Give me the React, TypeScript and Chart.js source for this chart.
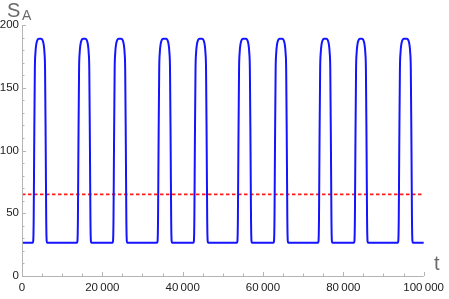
import React, { useEffect, useRef } from "react";
import { Chart, registerables } from "chart.js";

Chart.register(...registerables);

// Times (t) where each pulse crosses S_A ≈ 100 going up / going down
const riseTimes = [3030, 14040, 22900, 33990, 43030, 53870, 62980, 74060, 83000, 93920];
const fallTimes = [5910, 16920, 25860, 37020, 45990, 56900, 65940, 76920, 85790, 96970];
const baseLevel = 26.5;
const peakLevel = 189;
const thresholdLevel = 65;
const tMin = 0;
const tMax = 100000;
const xTickLabels = ["0", "20\u2009000", "40\u2009000", "60\u2009000", "80\u2009000", "100\u2009000"];
const yTickLabels = ["0", "50", "100", "150", "200"];

// Shape of a pulse edge: [time offset from crossing, level]
const riseProfile: [number, number][] = [
  [-340, baseLevel], [-230, 28], [-120, 45], [0, 100], [170, 165], [320, 178], [520, 184.5], [800, 188], [1150, peakLevel],
];

function buildSeries() {
  const pts: { x: number; y: number }[] = [{ x: tMin, y: baseLevel }];
  riseTimes.forEach((r, i) => {
    const f = fallTimes[i];
    riseProfile.forEach(([dt, v]) => pts.push({ x: r + dt, y: v }));
    [...riseProfile].reverse().forEach(([dt, v]) => pts.push({ x: f - dt, y: v }));
  });
  pts.push({ x: tMax, y: baseLevel });
  return pts;
}

const axisColor = "#b4b4b4";

const decorPlugin = {
  id: "decor",
  afterDraw(chart: any) {
    const { ctx, chartArea } = chart;
    const xs = chart.scales.x;
    const ys = chart.scales.y;
    ctx.save();
    ctx.strokeStyle = axisColor;
    ctx.lineWidth = 1;
    ctx.beginPath();
    ctx.moveTo(chartArea.left + 0.5, chartArea.top);
    ctx.lineTo(chartArea.left + 0.5, chartArea.bottom + 0.5);
    ctx.lineTo(chartArea.right, chartArea.bottom + 0.5);
    ctx.stroke();
    ctx.beginPath();
    xs.ticks.forEach((t: any) => {
      const px = Math.round(xs.getPixelForValue(t.value)) + 0.5;
      const len = t.value % 20000 === 0 ? 4 : 2.5;
      ctx.moveTo(px, chartArea.bottom);
      ctx.lineTo(px, chartArea.bottom - len);
    });
    ys.ticks.forEach((t: any) => {
      const py = Math.round(ys.getPixelForValue(t.value)) + 0.5;
      const len = t.value % 50 === 0 ? 4 : 2.5;
      ctx.moveTo(chartArea.left, py);
      ctx.lineTo(chartArea.left + len, py);
    });
    ctx.stroke();
    ctx.fillStyle = "#6a6a6a";
    ctx.textBaseline = "alphabetic";
    ctx.textAlign = "left";
    ctx.font = "20px 'Liberation Sans', Arial, sans-serif";
    ctx.fillText("S", 7, 17);
    ctx.font = "14px 'Liberation Sans', Arial, sans-serif";
    ctx.fillText("A", 22, 20);
    ctx.font = "20px 'Liberation Sans', Arial, sans-serif";
    ctx.fillText("t", 434, 270);
    ctx.restore();
  },
};

export default function App() {
  const ref = useRef<HTMLCanvasElement>(null);
  useEffect(() => {
    if (!ref.current) return;
    const chart = new Chart(ref.current, {
      type: "scatter",
      data: {
        datasets: [
          {
            data: [
              { x: tMin, y: thresholdLevel },
              { x: tMax, y: thresholdLevel },
            ],
            showLine: true,
            borderColor: "#ff1a1a",
            borderWidth: 1.8,
            borderDash: [3.5, 2.5],
            pointRadius: 0,
            order: 2,
          },
          {
            data: buildSeries(),
            showLine: true,
            borderColor: "#1414ff",
            borderWidth: 2,
            pointRadius: 0,
            cubicInterpolationMode: "monotone",
            borderJoinStyle: "round",
            borderCapStyle: "round",
            order: 1,
          },
        ],
      },
      options: {
        animation: false,
        responsive: false,
        maintainAspectRatio: false,
        layout: { padding: { top: 25, right: 21, left: 0, bottom: 0 } },
        plugins: { legend: { display: false }, tooltip: { enabled: false } },
        scales: {
          x: {
            type: "linear",
            min: tMin,
            max: tMax,
            afterFit: (s: any) => {
              s.height = 23;
            },
            border: { display: false },
            grid: { display: false, drawTicks: false },
            ticks: {
              stepSize: 5000,
              autoSkip: false,
              maxRotation: 0,
              padding: 5,
              color: "#222",
              font: { family: "'Liberation Sans', Arial, sans-serif", size: 11.5 },
              callback: (v: any) => (v % 20000 === 0 ? xTickLabels[v / 20000] : ""),
            },
          },
          y: {
            min: 0,
            max: 200,
            afterFit: (s: any) => {
              s.width = 22;
            },
            border: { display: false },
            grid: { display: false, drawTicks: false },
            ticks: {
              stepSize: 10,
              autoSkip: false,
              padding: 3,
              color: "#222",
              font: { family: "'Liberation Sans', Arial, sans-serif", size: 11.5 },
              callback: (v: any) => (v % 50 === 0 ? yTickLabels[v / 50] : ""),
            },
          },
        },
      },
      plugins: [decorPlugin],
    });
    return () => chart.destroy();
  }, []);
  return (
    <div style={{ position: "fixed", left: 0, top: 0, width: 449, height: 299, background: "#fff" }}>
      <canvas ref={ref} width={449} height={299} style={{ width: 449, height: 299 }} />
    </div>
  );
}
